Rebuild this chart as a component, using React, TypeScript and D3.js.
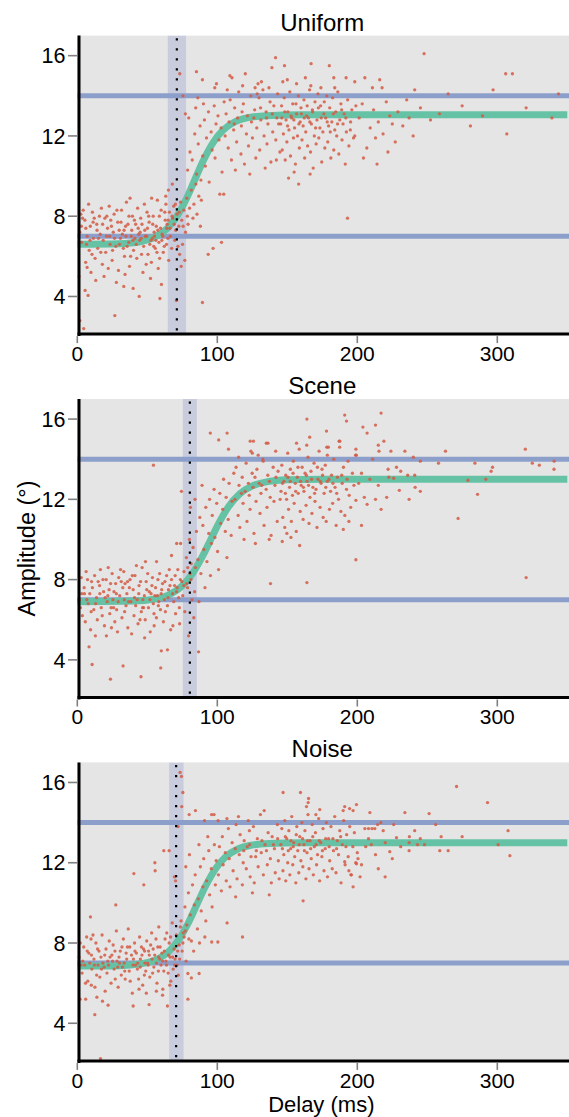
import React from "react";
import * as d3 from "d3";

const TITLES = ["Uniform", "Scene", "Noise"];
const X_TICKS = [0, 100, 200, 300];
const Y_TICKS = [4, 8, 12, 16];
const REF_LINES = [7, 14];
const BAND_LO = [64.6, 75.4, 65.6];
const BAND_HI = [77.7, 85.4, 75.9];
const THRESH = [71.1, 80.4, 70.6];

const CURVE_U_X = [0, 30, 45, 55, 65, 72, 78, 84, 90, 97, 104, 112, 122, 135, 160, 350];
const CURVE_U_Y = [6.6, 6.63, 6.73, 6.94, 7.44, 8.09, 8.88, 9.83, 10.77, 11.67, 12.28, 12.68, 12.91, 13.01, 13.05, 13.05];
const CURVE_S_X = [0, 40, 55, 65, 75, 83, 90, 95, 101, 108, 116, 125, 136, 150, 175, 350];
const CURVE_S_Y = [6.9, 6.93, 7.03, 7.23, 7.69, 8.38, 9.24, 9.95, 10.8, 11.63, 12.27, 12.67, 12.88, 12.97, 13.0, 13.0];
const CURVE_N_X = [0, 30, 45, 55, 65, 72, 79, 85.5, 92, 99, 106, 114, 124, 137, 160, 350];
const CURVE_N_Y = [6.85, 6.87, 6.96, 7.13, 7.55, 8.12, 8.96, 9.93, 10.89, 11.73, 12.3, 12.66, 12.87, 12.96, 13.0, 13.0];

const UNIFORM_PTS: [number, number][] = [
[1.8,7.2],[2.5,8.1],[5.4,7.8],[7,7.0],[6,5.7],[7,5.45],[5.6,4.3],[7.7,4.05],[1.8,2.8],[4.6,2.4],[26.8,3.05],[59,3.9],[1.2,5.0],
[3.1,6.7],[4.2,8.3],[8.5,6.3],[9.3,7.5],[10.8,8.2],[11.5,6.9],[12.7,5.9],[13.9,7.6],[14.6,6.4],[15.8,8.0],[16.4,7.1],[17.9,5.6],[18.5,6.8],[19.7,7.9],[20.3,6.2],[21.6,7.4],[22.8,8.5],[23.4,6.6],[24.9,5.8],[25.7,7.2],[26.3,8.1],[27.5,6.5],[28.9,7.7],[29.4,5.3],[30.8,6.9],[31.6,8.3],[32.2,7.1],[33.7,6.0],[34.5,7.5],[35.1,8.7],[36.8,6.7],[37.3,5.5],[38.9,7.3],[39.4,8.0],[40.2,6.3],[41.7,7.6],[42.5,5.9],[43.1,8.4],[44.6,6.8],[45.3,7.9],[46.9,5.2],[47.4,6.5],[48.2,7.3],[49.8,8.2],[50.5,6.1],[51.3,7.7],[52.9,5.7],[53.6,6.9],[54.2,8.0],[55.7,6.4],[56.4,7.5],[57.8,5.4],[58.3,6.7],[59.9,8.3],[60.6,7.1],[61.4,6.2],[62.8,7.8],[63.3,8.6],[64.7,6.9],
[2.9,7.5],[6.6,6.6],[9.8,5.2],[12.1,7.9],[13.2,4.8],[15.1,6.9],[17.2,8.4],[19.1,5.0],[20.9,7.0],[23.9,7.8],[25.2,6.3],[27.9,4.7],[29.9,7.3],[32.9,6.4],[34.1,5.1],[36.2,7.6],[38.1,6.0],[39.9,4.4],[41.1,6.9],[43.8,7.1],[45.9,6.1],[47.9,8.6],[49.2,5.6],[51.8,6.6],[52.3,4.9],[54.9,7.2],[56.9,6.2],[57.2,8.8],[58.8,5.9],[60.1,4.6],[62.1,6.5],[63.9,7.4],[65.3,5.8],[44.2,4.0],[33.2,4.5],[22.1,5.4],[10.5,6.1],[8.1,8.6],[37.7,8.9],[53.1,8.9],
[3.7,7.9],[6.1,7.4],[9.1,6.8],[11.3,7.7],[14.1,7.3],[16.8,6.2],[18.1,7.6],[21.1,8.0],[23.1,7.0],[24.4,7.5],[26.6,6.9],[28.3,8.3],[30.1,6.6],[31.2,7.7],[33.4,7.3],[35.6,6.5],[36.9,8.0],[38.5,7.0],[40.8,7.8],[42.1,6.6],[43.5,7.4],[45.6,6.9],[46.2,7.6],[48.6,7.0],[50.1,7.4],[51.0,8.0],[52.6,6.8],[53.9,7.6],[55.1,7.0],[56.1,6.8],[57.5,7.3],[58.6,8.0],[59.5,7.4],[61.1,7.0],[62.5,8.2],[63.7,6.6],[64.9,7.8],[66.2,7.4],[67.7,8.0],[69.2,7.6],[70.1,8.6],[72.8,8.2],[75.6,7.5],[78.6,8.0],[60.4,6.8],[54.6,6.5],[49.5,7.0],[44.9,7.2],[39.7,6.8],[34.8,7.0],
[64.2,7.6],[65.8,8.2],[66.5,7.0],[67.4,6.4],[68.1,7.9],[68.9,8.5],[69.6,6.8],[70.3,7.3],[71.2,8.1],[72.5,7.5],[73.1,6.1],[73.8,8.7],[74.6,7.8],[75.2,6.6],[76.1,8.3],[77.3,7.2],[78.2,8.9],[79.1,7.6],[80.2,8.4],[81.4,9.3],[82.6,7.9],[83.3,8.6],[84.7,9.6],[85.5,8.1],[86.8,9.0],[87.9,7.5],[88.6,8.8],[65.1,9.3],[67.9,9.6],[63.2,9.0],[71.9,6.5],[76.8,5.8],[74.2,5.5],[70.8,3.8],
[89.4,3.7],[93.5,6.1],[97,6.4],[103,6.7],[101.8,9.1],[104.6,9.1],[193,7.9],
[78.8,10.3],[80.5,11.2],[82.1,10.8],[83.9,12.1],[85.2,10.1],[86.4,11.6],[87.7,12.5],[88.3,9.8],[89.6,11.0],[90.8,12.8],[91.5,10.5],[92.3,11.9],[93.7,13.2],[94.2,9.7],[95.6,12.2],[96.3,11.3],[97.8,13.5],[98.4,10.9],[99.1,12.6],[100.5,13.0],[101.2,11.8],[102.7,12.4],[103.4,10.2],[104.9,13.7],[84.6,13.4],[86.1,13.9],[90.1,13.6],[79.6,12.9],
[85.1,15.2],[89.4,14.8],[73.2,15.1],[120,15.1],[109,15.0],[110.5,14.9],[99.4,14.6],[98.2,14.4],[139,15.4],[141.6,15.9],[131.5,14.7],[127,14.4],[128.5,14.1],[75.5,14.0],[77.2,13.1],
[105.6,12.0],[106.3,13.1],[107.8,11.4],[108.4,12.7],[109.2,13.8],[110.1,10.8],[111.7,12.3],[112.4,13.4],[113.8,11.7],[114.5,12.9],[115.3,14.2],[116.9,11.1],[117.2,12.5],[118.6,13.6],[119.4,10.6],[120.8,12.1],[121.5,13.0],[122.3,11.5],[123.9,14.0],[124.4,12.7],[125.1,11.9],[126.7,13.3],[127.5,10.9],[128.2,12.4],[129.8,13.9],[130.3,11.3],[131.1,12.8],[132.6,14.3],[133.4,12.0],[134.9,13.2],[135.5,11.6],[136.2,12.6],[137.7,13.7],[138.3,10.7],[139.6,12.2],[140.4,13.5],[141.8,11.8],[142.5,12.9],[143.1,14.1],[144.7,11.2],[107.1,14.3],[112.9,10.3],[118.1,14.5],[123.2,10.1],[129.1,14.6],[134.2,10.4],[136.9,14.4],[142.2,10.8],
[145.3,12.6],[145.9,13.5],[146.4,11.3],[147.2,12.1],[147.8,13.9],[148.5,10.8],[149.1,12.8],[149.7,11.7],[150.4,13.2],[151.2,12.3],[151.8,14.2],[152.3,11.0],[153.1,12.9],[153.9,13.6],[154.4,11.9],[155.2,12.4],[155.8,10.6],[156.6,13.1],[157.3,12.0],[157.9,14.0],[158.6,11.4],[159.2,12.7],[159.8,13.4],[160.5,11.8],[161.3,12.5],[161.9,13.8],[162.4,10.9],[163.2,12.2],[163.8,13.0],[164.5,11.5],[165.1,12.9],[165.9,14.3],[166.6,11.2],[167.2,12.6],[167.9,13.3],[168.5,10.4],[169.3,12.0],[169.8,13.7],[170.6,11.6],[171.2,12.8],[171.9,14.1],[172.5,11.9],[173.3,12.4],[173.8,13.5],[174.6,10.7],[175.4,12.2],[176.1,13.1],[176.8,11.4],[177.4,12.9],[178.2,14.0],[178.9,11.7],[179.5,12.5],[180.3,13.4],[181.1,10.9],[181.8,12.7],[182.4,13.9],[183.2,11.3],[183.9,12.3],[184.6,13.2],[185.3,12.0],[186.1,14.2],[186.8,11.1],[187.5,12.8],[188.3,13.6],[189.1,11.8],[189.8,12.6],[190.6,13.1],[191.4,10.6],[192.2,12.2],[193.1,13.8],[194.0,11.5],[195.2,12.7],[196.1,13.3],[197.3,11.9],[198.2,12.0],[199.0,13.5],[146.8,14.7],[150.9,9.9],[154.9,10.2],[158.1,9.6],[162.9,14.9],[166.3,10.1],
[146.1,12.9],[148.2,13.2],[150.2,12.5],[152.7,13.0],[154.7,12.8],[156.2,13.6],[158.3,12.6],[160.1,13.1],[162.1,12.9],[164.2,13.5],[166.1,12.7],[168.1,13.2],[170.2,12.4],[172.2,13.4],[174.2,12.9],[176.4,13.7],[178.5,12.7],[180.7,12.2],[182.9,13.1],[185.9,12.6],[188.8,13.3],[191.8,12.9],[126.1,12.9],[130.9,13.4],[135.2,12.9],[139.3,13.1],[143.8,12.6],[117.7,13.2],[112.1,12.6],
[148,15.5],[150,14.8],[156.6,14.6],[166.8,14.5],[167,15.6],[174,14.4],[180,15.5],[183.2,14.9],[183.9,14.4],[192,14.9],[198.2,14.7],[205.4,14.9],[210.8,14.4],[216,14.8],[217.7,14.4],
[195,12.3],[201.3,12.9],[213,11.9],[215,12.7],[223.2,13.0],[225,12.6],[229,13.2],[237,12.9],[239.9,12.0],[241,14.3],[245.1,13.4],[203.5,13.6],[206.8,11.4],[209.2,12.4],[211.6,13.3],[218.4,12.1],[220.7,13.7],[227.1,11.7],[232.5,12.5],[235.3,13.8],[204.4,10.9],[214.1,10.6],[221.9,11.2],
[247.7,16.1],[306,15.1],[310.8,15.1],[297,14.3],[264.9,14.1],[343.7,14.1],[320.6,13.4],[274.9,13.5],[280.8,12.5],[306.8,12.1],[339,12.9],[252.3,12.8],[258.7,13.1],[289.5,13.0]
];

const SCENE_PTS: [number, number][] = [
[8.4,4.65],[10.6,3.77],[23.7,3.04],[32.7,3.7],[45.5,3.16],[59.6,3.6],[60,4.45],[64.4,4.5],[86.6,4.4],[54.4,13.7],[20.8,5.2],[24.4,5.6],[48.7,8.9],[56.6,8.9],[67.3,9.2],[71,9.8],[73.8,9.8],[74.4,12.4],[138,7.8],[199,8.99],[320.6,8.1],[164,7.85],[272,11.05],
[1.5,7.0],[2.8,8.1],[3.6,6.2],[4.9,7.6],[5.7,5.9],[6.3,8.4],[7.8,6.8],[8.9,7.3],[9.5,5.5],[10.2,7.9],[11.8,6.5],[12.4,8.2],[13.7,7.1],[14.3,6.0],[15.9,7.7],[16.5,8.5],[17.1,6.6],[18.8,7.4],[19.4,5.7],[20.6,8.0],[21.3,6.9],[22.7,7.5],[23.2,6.3],[24.9,8.3],[25.5,7.0],[26.8,5.9],[27.4,7.8],[28.1,6.5],[29.6,8.1],[30.3,7.2],[31.9,6.1],[32.5,7.6],[33.2,8.4],[34.8,6.7],[35.4,7.3],[36.1,5.6],[37.7,8.0],[38.3,6.9],[39.9,7.5],[40.5,6.2],[41.2,8.2],[42.8,7.0],[43.4,5.8],[44.1,7.7],[45.7,6.4],[46.3,8.6],[47.9,7.2],[48.5,6.0],[49.2,7.9],[50.8,6.6],[51.4,7.4],[52.1,5.4],[53.7,8.1],[54.3,6.8],[55.9,7.6],[56.5,6.1],[57.2,7.2],[58.8,8.3],[59.4,6.5],[60.9,7.8],[61.5,5.9],[62.2,7.0],[63.8,8.2],[64.4,6.7],[65.1,7.5],[66.7,5.5],[67.3,8.0],[68.9,6.9],[69.5,7.7],[70.2,6.3],[71.8,8.5],[72.4,7.1],[73.1,5.8],[74.7,7.9],
[2.2,6.6],[5.1,7.3],[7.3,8.0],[9.9,6.4],[12.9,5.2],[14.9,7.9],[17.8,6.2],[19.9,7.1],[22.1,8.6],[24.1,6.6],[26.2,7.4],[28.7,5.4],[30.9,8.5],[33.8,6.4],[35.9,7.9],[38.8,5.3],[40.9,7.1],[42.2,8.7],[44.8,6.0],[46.8,7.0],[48.1,5.1],[50.3,8.3],[52.7,7.3],[54.9,5.7],[57.9,6.7],[59.9,7.3],[62.9,6.4],[65.7,8.5],[68.3,5.7],[70.9,7.4],[72.9,6.6],[75.3,7.2],[76.8,6.4],[78.2,7.8],[79.5,5.2],[80.6,8.3],[81.9,7.0],[83.2,6.1],[84.4,8.6],
[3.2,7.3],[6.8,7.0],[10.8,7.6],[13.1,6.8],[16.1,7.3],[18.3,8.0],[21.8,7.2],[23.8,7.8],[25.9,6.6],[27.9,7.3],[29.2,6.9],[31.4,7.9],[33.6,7.0],[34.1,7.8],[36.6,6.9],[37.2,7.6],[39.3,8.2],[41.7,6.7],[43.9,7.3],[45.2,7.9],[47.3,6.6],[49.6,7.5],[51.9,7.0],[53.3,7.7],[55.4,7.2],[57.6,8.0],[58.2,6.9],[60.3,7.5],[62.6,7.9],[64.8,7.1],[66.2,7.7],[68.1,7.3],[69.9,8.2],[71.3,7.6],[73.6,8.0],[76.1,7.7],[78.9,8.6],[81.2,8.0],[54.8,6.3],[46.6,6.6],
[76.2,8.4],[77.9,9.1],[78.8,7.6],[80.1,10.0],[81.3,8.8],[82.7,9.6],[83.8,7.4],[85.1,10.4],[86.2,9.0],[87.5,11.1],[88.3,8.3],[89.7,10.7],[90.4,9.5],[91.8,11.6],[92.6,8.9],[93.9,10.3],[94.5,12.0],[95.8,9.8],[96.4,11.2],[97.7,12.5],[98.3,10.1],[99.6,11.8],[100.2,9.4],[101.8,12.3],[102.4,10.8],[103.9,11.5],[104.5,13.0],[105.7,10.4],[106.3,12.1],[107.8,11.0],[108.4,12.8],[109.9,10.2],[110.5,11.9],[111.8,13.3],[86.9,6.9],[91.2,7.6],[95.1,8.2],[100.9,8.5],[106.9,9.1],[84.1,12.0],[89.1,12.7],[80.8,11.6],
[95,15.3],[101,14.96],[107,15.3],[108,14.5],[123.5,14.9],[125.8,14.9],[135,14.8],[136.2,14.8],[124,14.4],[125,14.3],[132.5,14.0],
[112.6,12.0],[113.4,13.6],[114.9,11.2],[115.5,12.7],[116.1,10.6],[117.8,13.1],[118.4,11.8],[119.9,12.4],[120.6,13.8],[121.2,10.9],[122.8,12.2],[123.4,11.5],[124.9,13.3],[125.5,12.6],[126.2,10.3],[127.7,11.9],[128.3,13.5],[129.9,12.8],[130.5,11.3],[131.2,12.3],[132.8,13.9],[133.4,10.7],[134.9,12.5],[135.5,11.6],[136.1,13.2],[137.8,12.1],[138.4,10.2],[139.9,13.6],[140.5,11.9],[141.2,12.7],[142.8,10.9],[143.4,13.4],[144.9,12.0],[115.2,14.1],[129.2,14.2],[141.7,14.4],[119.1,10.0],[127.2,9.8],[137.1,10.0],
[145.5,12.4],[146.1,13.7],[146.8,11.1],[147.6,12.9],[148.2,10.6],[148.9,13.2],[149.5,12.0],[150.3,14.3],[150.9,11.5],[151.6,12.6],[152.2,13.5],[152.9,10.9],[153.7,12.2],[154.3,13.9],[154.9,11.8],[155.7,12.8],[156.4,10.4],[157.1,13.1],[157.8,12.3],[158.5,14.5],[159.2,11.4],[159.9,12.7],[160.6,13.6],[161.3,11.0],[161.9,12.4],[162.7,13.3],[163.4,11.7],[164.1,12.9],[164.8,14.1],[165.5,10.8],[166.2,12.1],[166.9,13.4],[167.6,11.3],[168.3,12.6],[169.1,13.8],[169.8,11.9],[170.5,12.5],[171.2,10.6],[171.9,13.0],[172.7,14.4],[173.4,11.6],[174.1,12.8],[174.8,13.5],[175.6,11.1],[176.3,12.3],[177.1,13.7],[177.8,10.9],[178.6,12.9],[179.3,14.6],[180.1,11.5],[180.9,12.4],[181.6,13.2],[182.4,11.8],[183.2,14.0],[184.1,12.6],[184.9,10.7],[185.8,13.1],[186.6,12.0],[187.5,14.9],[188.3,11.4],[189.2,12.8],[190.1,13.6],[191.1,11.2],[192.3,12.5],[193.4,13.9],[194.2,12.2],[195.3,11.6],[196.5,13.3],[197.6,12.7],[198.8,14.2],[146.4,9.9],[152.6,10.1],[158.8,9.7],[163.9,14.7],[156.6,14.8],[149.7,10.3],
[146.6,12.8],[148.6,12.3],[150.5,13.1],[152.1,12.9],[154.1,13.3],[156.0,12.4],[157.6,13.6],[159.5,12.9],[161.5,12.6],[163.6,13.2],[165.2,12.7],[167.3,13.0],[169.5,12.3],[171.5,13.6],[173.6,12.9],[175.2,13.2],[177.5,12.6],[179.8,13.0],[182.6,12.8],[185.3,12.3],[188.9,13.2],[192.7,13.0],[122.2,12.8],[126.9,13.1],[131.8,12.7],[137.2,12.9],[141.9,13.1],[117.2,12.3],
[164,16.0],[191,16.2],[192.3,15.9],[217,16.3],[204,15.6],[213,15.7],[207,15.3],[178,15.4],[166,15.1],[187,14.9],[187.4,14.6],[215,14.7],[215.5,14.4],[219,14.9],[178.2,14.6],[178.6,14.2],[199,14.5],[199.3,14.2],[234,14.4],[263,14.4],[240,14.1],[245,13.9],[258,13.8],[284,13.8],[320,14.5],[325,13.8],[330,13.7],[340.6,13.9],[340.5,13.5],[296.6,13.6],[295.6,13.4],[291.8,13.0],[279,12.95],[285.9,12.25],[245,12.4],[241,13.2],[241.3,12.6],[230,12.45],[226,13.05],[221,12.1],[215,12.7],[213,12.0],[207,11.75],[205,12.1],[199,11.95],[224,14.4],[228,13.6],[231,13.4],[236,13.2],[222,13.5],[222.5,13.1],[203,13.3],[209,13.0],[211,14.0],[201,12.8],[217,11.5],[237,12.0],[194,10.9],[190,10.5],[203,10.7]
];

const NOISE_PTS: [number, number][] = [
[16.6,2.24],[12.5,4.43],[39.9,4.86],[51.3,4.93],[64.4,4.86],[79,5.2],[27.5,9.9],[40.4,11.46],[47.5,10.9],[55.4,12.0],[55.6,11.6],[9.4,9.3],[61.8,12.6],[69.4,11.3],[70.2,11.1],[73.4,16.5],[74.4,16.3],[75.4,15.5],[74.6,14.8],[72,13.8],[65.6,12.6],[79.9,14.4],[84.4,14.6],[90.9,14.1],[95.9,14.4],[97.7,14.4],[100.6,14.1],[118,8.3],[107,9.0],[96,8.05],[100.4,8.05],[79,6.48],[81.5,6.26],[87,6.48],[2,5.2],[6,5.2],[10,5.9],[14,5.3],[18,5.1],[22,4.9],
[1.2,7.3],[2.1,8.0],[3.4,6.5],[4.6,7.8],[5.3,6.9],[6.7,8.3],[7.5,6.1],[8.2,7.5],[9.8,8.2],[10.4,6.7],[11.9,7.2],[12.6,5.8],[13.3,8.0],[14.8,6.9],[15.5,7.6],[16.1,6.3],[17.7,8.4],[18.3,7.0],[19.9,5.6],[20.5,7.7],[21.2,6.5],[22.8,8.1],[23.4,7.3],[24.1,6.0],[25.6,7.9],[26.3,6.7],[27.9,8.6],[28.4,7.1],[29.2,5.8],[30.7,7.6],[31.4,6.4],[32.9,8.2],[33.5,7.0],[34.2,6.2],[35.8,7.8],[36.4,8.7],[37.1,6.6],[38.7,7.4],[39.3,5.5],[40.9,8.0],[41.6,6.9],[42.2,7.5],[43.8,6.2],[44.5,8.3],[45.1,7.2],[46.7,5.9],[47.3,7.7],[48.9,6.6],[49.6,8.1],[50.2,7.0],[51.8,6.3],[52.4,7.9],[53.1,8.5],[54.7,6.8],[55.3,7.4],[56.9,6.0],[57.5,7.8],[58.2,8.8],[59.8,6.9],[60.4,7.5],[61.1,5.7],[62.7,8.2],[63.3,7.1],[64.9,6.5],[65.6,8.0],[66.2,7.3],[67.8,9.0],[68.5,6.7],[69.1,7.7],[70.7,8.4],[71.3,6.9],[72.8,7.9],[73.6,8.8],
[2.8,6.9],[5.9,6.0],[8.9,7.0],[11.2,8.4],[13.8,6.4],[16.9,7.3],[19.2,6.8],[21.8,7.1],[24.7,7.4],[27.1,6.2],[29.8,7.3],[32.3,6.8],[34.9,7.5],[37.8,6.1],[40.1,7.2],[42.9,6.7],[45.8,7.8],[47.9,6.4],[50.9,7.6],[53.8,6.5],[56.2,8.2],[58.9,7.2],[61.8,6.6],[63.9,8.5],[66.8,6.1],[69.8,7.2],[72.2,6.4],[74.9,7.6],[76.3,8.3],[77.7,7.1],[56.5,5.6],[60.9,5.4],[66.1,5.9],[49.3,5.5],[44.1,5.7],
[3.9,7.1],[7.1,7.6],[10.1,7.4],[12.2,6.9],[14.5,7.7],[17.3,6.7],[19.6,7.4],[22.3,6.9],[25.2,7.1],[26.9,7.6],[28.9,6.8],[30.2,7.0],[31.9,7.8],[33.9,6.6],[35.3,7.2],[37.5,7.8],[39.8,6.9],[41.2,7.6],[43.2,7.0],[44.9,6.8],[46.2,7.4],[48.3,7.0],[50.6,6.9],[51.4,7.4],[53.4,7.2],[54.2,7.7],[56.6,7.0],[57.9,6.6],[59.2,7.8],[60.9,7.1],[62.2,7.6],[63.7,6.9],[65.2,7.4],[66.6,8.3],[68.1,7.3],[69.6,6.9],[71.7,7.6],[73.1,7.2],[75.4,8.0],[77.1,8.6],[79.7,8.2],[58.1,7.3],[48.1,7.6],
[74.1,9.1],[75.6,8.5],[76.9,9.8],[78.2,8.9],[79.4,10.5],[80.7,9.4],[81.5,8.1],[82.3,10.9],[83.6,9.9],[84.2,11.4],[85.8,8.7],[86.4,10.2],[87.9,11.8],[88.5,9.6],[89.7,10.8],[90.3,12.2],[91.8,9.1],[92.4,11.1],[93.9,12.6],[94.5,10.4],[95.7,11.7],[96.3,9.8],[97.9,12.9],[98.6,10.9],[99.2,12.1],[83.1,7.6],[87.3,8.0],[91.1,8.3],[77.5,11.8],[80.1,12.4],[86.9,12.9],[93.2,13.3],
[100.8,11.4],[101.5,12.8],[102.9,10.6],[103.6,13.3],[104.2,11.9],[105.7,12.5],[106.4,11.1],[107.9,13.7],[108.5,12.2],[109.1,10.8],[110.6,13.0],[111.3,11.6],[112.8,12.7],[113.4,13.9],[114.1,11.2],[115.7,12.4],[116.3,13.4],[117.9,10.9],[118.5,12.0],[119.2,13.1],[120.7,11.7],[121.4,12.8],[122.9,13.6],[123.5,11.3],[124.1,12.3],[125.8,13.8],[126.4,11.0],[127.9,12.6],[128.6,13.2],[129.2,11.8],[130.8,14.4],[131.4,12.5],[132.9,11.4],[133.5,14.6],[134.1,12.9],[135.7,11.9],[136.3,13.5],[137.9,12.2],[138.6,11.0],[139.2,13.3],[140.8,12.7],[141.4,11.5],[142.9,13.9],[143.6,12.1],[144.2,11.2],[106.9,14.2],[115.1,14.3],[122.1,14.1],[113.1,10.3],[125.1,10.5],[137.1,10.4],
[145.4,12.9],[146.1,13.7],[146.9,11.6],[147.5,12.4],[148.2,14.1],[148.9,11.1],[149.6,13.2],[150.3,12.0],[151.1,13.6],[151.8,11.4],[152.4,12.7],[153.2,14.3],[153.9,11.9],[154.6,13.0],[155.3,12.3],[156.1,11.0],[156.8,13.8],[157.5,12.6],[158.2,11.5],[158.9,13.3],[159.7,12.1],[160.4,14.0],[161.1,11.8],[161.9,12.9],[162.6,13.6],[163.3,11.2],[164.1,12.5],[164.8,14.4],[165.5,11.7],[166.3,13.1],[167.1,12.2],[167.8,13.9],[168.6,11.4],[169.3,12.8],[170.1,13.5],[170.9,11.9],[171.6,12.4],[172.4,14.2],[173.1,11.1],[173.9,13.0],[174.7,12.3],[175.5,13.7],[176.2,11.6],[177.1,12.7],[177.9,14.0],[178.7,11.3],[179.5,13.2],[180.3,12.1],[181.2,13.8],[182.1,11.7],[183.0,12.6],[183.9,14.3],[184.8,11.5],[185.7,13.1],[186.6,12.4],[187.5,13.6],[188.4,11.0],[189.3,12.9],[190.3,14.1],[191.3,11.9],[192.4,13.4],[193.5,12.3],[194.6,13.8],[195.7,11.4],[196.8,12.8],[197.9,13.5],[198.9,12.0],
[146.5,12.7],[148.6,13.3],[150.7,12.6],[152.6,13.1],[154.2,12.8],[156.4,13.4],[158.5,12.9],[160.9,13.2],[162.2,12.6],[164.5,13.1],[166.7,12.7],[168.2,13.3],[170.6,12.9],[172.8,13.1],[175.1,12.6],[177.4,13.2],[179.9,12.8],[182.6,13.2],[185.2,12.7],[188.1,13.3],[191.9,12.8],[123.1,12.9],[127.4,12.3],[131.9,13.1],[135.1,12.6],[140.1,12.9],[143.1,13.2],[118.9,12.6],
[147,15.5],[159.4,15.5],[164.9,15.0],[165.2,15.2],[163.7,14.8],[173.2,14.65],[170.4,14.4],[189.9,14.6],[191,14.8],[197,14.6],[194.5,14.7],[199.4,14.9],[209,14.5],[234,14.5],[251.3,14.45],[270.9,15.8],[293,15.0],
[256,13.9],[307.7,13.6],[274.9,13.3],[259.9,13.3],[245,13.2],[243,12.9],[237,13.0],[237.2,13.3],[237,12.6],[258.9,12.6],[264.9,12.6],[300.6,12.9],[309,12.35],[228,13.25],[223.2,12.55],[219.9,11.3],[197,10.8],[161.3,10.1],[199.4,11.95],[194,11.6],[195.5,11.4],[191,12.05],[205.4,13.7],[208,13.7],[210.5,13.7],[212.5,13.7],[214.5,13.9],[216.8,14.0],[218.5,13.6],[208,13.2],[210,12.9],[213,12.4],[200,12.5],[200.5,12.2],[203,11.9],[206,12.8],[220,13.0],[226,13.9],[231,12.8],[215,11.7],[202,11.3],[225,12.2],[248,12.9],[241,13.6]
];

const PANELS = [
  { title: TITLES[0], pts: UNIFORM_PTS, cx: CURVE_U_X, cy: CURVE_U_Y },
  { title: TITLES[1], pts: SCENE_PTS, cx: CURVE_S_X, cy: CURVE_S_Y },
  { title: TITLES[2], pts: NOISE_PTS, cx: CURVE_N_X, cy: CURVE_N_Y },
];

const W = 569;
const H = 1117;
const TOP0 = 35.6;
const STEP = 363.4;
const PH = 299;
const FONT = "'Liberation Sans', Arial, Helvetica, sans-serif";

export default function App() {
  const x = d3.scaleLinear().domain([0, 350]).range([77.3, 567.3]);
  return (
    <svg width={W} height={H} style={{ position: "absolute", left: 0, top: 0, display: "block", background: "#fff" }}>
      {PANELS.map((p, i) => {
        const top = TOP0 + STEP * i;
        const bottom = top + PH;
        const y = d3.scaleLinear().domain([2.1, 17]).range([bottom, top]);
        const line = d3
          .line<number>()
          .x((_, k) => x(p.cx[k]))
          .y((d) => y(d))
          .curve(d3.curveMonotoneX);
        const clipId = `clip${i}`;
        return (
          <g key={i} fontFamily={FONT}>
            <defs>
              <clipPath id={clipId}>
                <rect x={x(0)} y={top} width={x(350) - x(0) + 2} height={PH} />
              </clipPath>
            </defs>
            <rect x={x(0)} y={top} width={x(350) - x(0) + 2} height={PH} fill="#e5e5e5" />
            <g clipPath={`url(#${clipId})`}>
              <rect x={x(BAND_LO[i])} y={top} width={x(BAND_HI[i]) - x(BAND_LO[i])} height={PH} fill="#c8ccdd" />
              {REF_LINES.map((v) => (
                <line key={v} x1={x(0)} x2={x(350) + 2} y1={y(v)} y2={y(v)} stroke="#8c9fcb" strokeWidth={5} />
              ))}
              <path d={line(p.cy) || ""} fill="none" stroke="#66c2a5" strokeWidth={7} />
              {p.pts.map((d, k) => (
                <circle key={k} cx={x(d[0])} cy={y(d[1])} r={1.65} fill="#d35b44" fillOpacity={0.85} />
              ))}
              <line
                x1={x(THRESH[i])}
                x2={x(THRESH[i])}
                y1={top}
                y2={bottom}
                stroke="#000"
                strokeWidth={2.2}
                strokeDasharray="2.2,7.8"
                strokeDashoffset={-2.6}
              />
            </g>
            <line x1={79} x2={79} y1={top} y2={bottom + 1.5} stroke="#000" strokeWidth={3} />
            <line x1={77.5} x2={W} y1={bottom - 0.5} y2={bottom - 0.5} stroke="#000" strokeWidth={3} />
            {Y_TICKS.map((t) => (
              <g key={t}>
                <line x1={68} x2={77.5} y1={y(t)} y2={y(t)} stroke="#808080" strokeWidth={1.6} />
                <text x={65.5} y={y(t)} dy="0.36em" textAnchor="end" fontSize={21.5} fill="#000">
                  {t}
                </text>
              </g>
            ))}
            {X_TICKS.map((t) => (
              <g key={t}>
                <line x1={x(t)} x2={x(t)} y1={bottom + 1.5} y2={bottom + 8.5} stroke="#808080" strokeWidth={1.6} />
                <text x={x(t)} y={bottom + 26.4} textAnchor="middle" fontSize={21} fill="#000">
                  {t}
                </text>
              </g>
            ))}
            <text x={(x(0) + x(350)) / 2} y={top - 5} textAnchor="middle" fontSize={24} fill="#000">
              {p.title}
            </text>
          </g>
        );
      })}
      <text
        transform={`translate(35,${TOP0 + STEP + PH / 2}) rotate(-90)`}
        textAnchor="middle"
        fontSize={23.5}
        fontFamily={FONT}
        fill="#000"
      >
        Amplitude (°)
      </text>
      <text x={(x(0) + x(350)) / 2 - 1} y={1112.2} textAnchor="middle" fontSize={22} fontFamily={FONT} fill="#000">
        Delay (ms)
      </text>
    </svg>
  );
}
